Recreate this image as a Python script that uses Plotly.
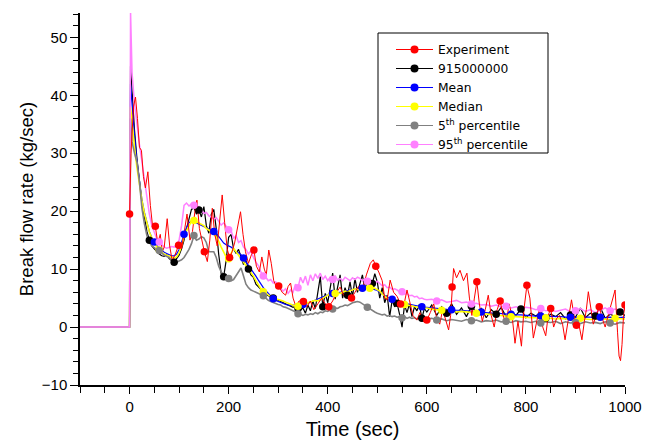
import plotly.graph_objects as go

# ---------------- data ----------------
time_sim = [-100, 0, 2] + list(range(5, 601, 5)) + list(range(610, 1001, 10))

p95 = [0, 0, 54.5,
       44, 38.5, 34.5, 31.5, 28.5, 25.5, 22.5, 19.5, 17.5, 16.5,
       15.2, 14.7, 14.2, 13.8, 13.6, 13.7, 13.9, 13.8, 14.2, 15.0,
       17.5, 21.0, 21.4, 20.9, 21.2, 21.0, 20.6, 20.8, 20.2, 19.6,
       19.8, 19.2, 19.0, 18.6, 18.9, 18.2, 17.6, 18.0, 17.4, 16.8,
       16.6, 15.3, 15.8, 14.6, 14.9, 13.8, 13.4, 12.6, 13.2, 12.0,
       11.2, 10.6, 9.5, 8.8, 8.6, 8.0, 8.2, 7.6, 7.8, 7.2,
       6.8, 6.2, 6.6, 5.8, 6.4, 6.0, 7.4, 6.8, 8.6, 7.6,
       8.8, 7.2, 9.0, 8.0, 9.2, 8.4, 9.3, 8.2, 8.8, 8.0,
       8.6, 8.2, 8.9, 8.1, 8.4, 8.0, 8.6, 8.3, 8.0, 8.5,
       8.2, 8.6, 8.4, 8.0, 8.3, 7.9, 8.2, 7.8, 7.6, 7.9,
       7.5, 7.1, 7.3, 6.8, 6.9, 6.5, 6.6, 6.4, 6.0, 6.1,
       5.7, 5.8, 5.4, 5.5, 5.2, 5.3, 4.9, 5.0, 4.8, 4.7,
       4.8, 4.5, 4.7, 4.3, 4.4, 4.6, 4.2, 4.3, 4.0, 4.1,
       3.8, 3.9, 3.6, 3.8, 3.5, 3.6, 3.3, 3.5, 3.2, 3.4,
       3.3, 3.0, 3.2, 2.8, 3.0, 2.7, 2.9, 3.1, 2.6, 2.8,
       3.2, 2.7, 3.0, 2.5, 2.9, 3.3, 2.8, 3.1, 2.9, 3.0]

run_915 = [0, 0, 45,
           40, 34, 29, 25, 21.5, 19, 16.5, 15, 14, 13.5,
           13, 12.6, 12.3, 12.2, 12.5, 11.8, 11.5, 11.2, 11.8, 12.4,
           13.5, 15, 17, 18.8, 20.3, 20.6, 19.5, 20.2, 19.0, 20.8,
           17.5, 16.2, 19.5, 20.3, 17.0, 12.5, 9.2, 8.7, 11.5, 15.5,
           16.0, 13.5, 12.7, 13.4, 12.0, 10.8, 11.5, 10.0, 9.0, 8.6,
           7.4, 7.0, 6.5, 6.0, 5.6, 5.4, 5.2, 5.0, 4.8, 4.6,
           4.4, 4.2, 3.9, 3.7, 3.5, 3.4, 3.6, 3.2, 2.9, 3.3,
           2.4, 3.8, 2.8, 4.5, 3.2, 6.0, 8.7, 3.5, 5.8, 4.2,
           6.5, 9.3, 4.8, 7.2, 9.0, 5.0, 6.8, 5.5, 7.8, 5.2,
           8.4, 6.0, 7.6, 9.0, 6.4, 8.2, 7.0, 7.5, 9.2, 7.8,
           5.0, 6.8, 4.2, 5.5, 1.8, 4.6, 3.5, 4.1, 2.2, 0.0,
           3.8, 2.5, 4.0, 1.8, 3.5, 2.8, 3.9, 1.5, 3.2, 2.6,
           3.8, 2.0, 3.5, 2.4, 4.0, 2.2, 3.3, 1.8, 3.6, 2.5,
           3.2, 1.6, 3.0, 2.2, 3.4, 1.8, 2.7, 2.0, 3.1, 1.6,
           2.4, 1.9, 2.6, 1.5, 2.2, 1.8, 2.5, 1.4, 2.1, 1.7,
           3.3, 1.6, 2.4, 1.9, 3.4, 1.5, 2.2, 1.8, 2.6, 2.0]

mean = [0, 0, 42,
        38, 33, 28.5, 25, 22, 19.8, 18, 16.5, 15.4, 14.7,
        14.1, 13.6, 13.2, 12.9, 12.7, 12.5, 12.3, 12.3, 12.6, 13.4,
        14.6, 16.0, 17.2, 18.0, 18.3, 18.2, 18.0, 17.8, 17.6, 17.4,
        17.2, 17.0, 16.8, 16.5, 16.2, 15.6, 15.0, 14.5, 14.2, 14.0,
        13.8, 13.4, 13.0, 12.8, 12.5, 11.9, 11.3, 10.8, 10.2, 9.6,
        8.8, 8.1, 7.4, 6.8, 6.3, 5.8, 5.3, 4.9, 4.6, 4.4,
        4.2, 4.1, 3.9, 3.8, 3.8, 3.7, 3.8, 3.8, 3.9, 3.9,
        4.0, 4.1, 4.3, 4.4, 4.6, 4.8, 5.0, 5.2, 5.4, 5.5,
        5.6, 5.8, 5.9, 6.0, 6.1, 6.2, 6.3, 6.4, 6.5, 6.6,
        6.6, 6.7, 6.7, 6.7, 6.8, 6.7, 6.7, 6.6, 6.5, 6.3,
        6.0, 5.7, 5.4, 5.2, 5.0, 4.8, 4.6, 4.5, 4.3, 4.2,
        4.1, 4.0, 3.9, 3.8, 3.7, 3.6, 3.6, 3.5, 3.4, 3.4,
        3.3, 3.2, 3.2, 3.1, 3.0, 2.9, 2.9, 2.8, 2.7, 2.6,
        2.6, 2.5, 2.4, 2.4, 2.3, 2.3, 2.2, 2.1, 2.1, 2.0,
        2.0, 1.9, 1.9, 1.9, 1.8, 1.8, 1.8, 1.7, 1.7, 1.7,
        1.8, 1.7, 1.7, 1.6, 1.7, 1.6, 1.7, 1.6, 1.7, 1.7]

median = [0, 0, 38,
          35, 31, 27.5, 24.5, 21.8, 19.6, 17.8, 16.4, 15.3, 14.5,
          13.8, 13.3, 12.9, 12.6, 12.4, 12.2, 12.0, 11.9, 12.1, 12.8,
          14.0, 15.6, 16.6, 17.6, 18.3, 18.4, 18.2, 17.9, 17.7, 17.5,
          17.0, 16.8, 16.5, 16.2, 15.6, 14.8, 13.8, 12.9, 12.1, 11.8,
          12.6, 13.6, 13.0, 12.4, 11.8, 11.4, 10.8, 10.2, 9.4, 8.8,
          8.0, 7.2, 6.6, 6.1, 5.8, 5.5, 5.2, 5.0, 4.9, 4.8,
          4.6, 4.5, 4.3, 4.1, 3.9, 3.8, 3.6, 3.6, 3.7, 3.9,
          4.0, 4.2, 4.4, 4.5, 4.6, 4.5, 4.7, 5.0, 5.3, 5.5,
          5.7, 5.6, 5.8, 5.9, 5.8, 6.0, 6.2, 6.1, 6.3, 6.4,
          6.6, 6.5, 6.4, 6.6, 6.8, 6.9, 6.7, 6.8, 6.7, 6.5,
          6.2, 5.7, 5.3, 5.0, 4.9, 4.7, 4.5, 4.4, 4.2, 4.0,
          3.9, 3.8, 3.7, 3.6, 3.5, 3.5, 3.4, 3.3, 3.3, 3.3,
          3.1, 3.0, 2.9, 2.8, 2.7, 2.6, 2.7, 2.6, 2.5, 2.4,
          2.3, 2.2, 2.1, 2.1, 2.0, 1.9, 1.8, 1.8, 1.7, 1.6,
          1.6, 1.6, 1.5, 1.6, 1.5, 1.4, 1.5, 1.4, 1.3, 1.4,
          1.5, 1.4, 1.3, 1.4, 1.3, 1.4, 1.3, 1.5, 1.4, 1.4]

p05 = [0, 0, 36,
       32, 30, 28.5, 25, 20.5, 17.8, 15.8, 14.6, 14.0, 13.7,
       13.4, 13.2, 12.8, 12.4, 12.2, 12.0, 11.6, 11.2, 11.2, 11.4,
       11.6, 12.0, 12.6, 13.4, 14.4, 15.8, 15.0, 15.2, 15.6, 15.4,
       14.6, 13.0, 13.0, 13.0, 12.0, 10.5, 9.5, 9.0, 8.6, 8.4,
       8.0, 8.2, 8.8, 9.6, 10.2, 8.8, 7.4, 6.8, 6.4, 6.2,
       6.0, 5.8, 5.6, 5.4, 5.0, 4.6, 4.4, 4.2, 4.0, 3.9,
       3.8, 3.5, 3.4, 3.2, 3.0, 2.7, 2.5, 2.3, 2.1, 2.0,
       2.2, 2.1, 2.3, 2.2, 2.5, 2.3, 2.6, 2.5, 2.8, 2.7,
       3.0, 3.1, 3.3, 3.2, 3.5, 3.6, 3.8, 3.7, 4.0, 4.2,
       4.3, 4.4, 4.3, 4.0, 3.7, 3.4, 3.2, 2.9, 2.6, 2.4,
       2.3, 2.1, 2.2, 1.9, 2.0, 1.8, 1.9, 1.7, 1.8, 1.6,
       1.8, 1.5, 1.7, 1.5, 1.6, 1.4, 1.6, 1.3, 1.5, 1.4,
       1.5, 1.2, 1.4, 1.1, 1.3, 1.2, 1.0, 1.3, 1.1, 1.2,
       0.9, 1.1, 1.0, 1.2, 0.9, 1.0, 0.8, 1.1, 0.9, 1.0,
       0.8, 1.0, 0.7, 0.9, 0.8, 1.0, 0.6, 0.9, 0.7, 0.8,
       0.6, 0.9, 0.7, 0.8, 0.6, 0.9, 0.7, 0.5, 0.8, 0.7]

exp_t = [0, 3, 8, 12, 16, 20, 24, 28, 32, 37, 42, 47, 52, 57, 62, 66, 70, 76, 81, 86,
         92, 99, 105, 110, 116, 122, 127, 132, 136, 141, 146, 151, 157, 162, 167, 172, 177, 182, 187, 192,
         197, 202, 207, 212, 218, 224, 229, 234, 240, 246, 251, 256, 262, 267, 272, 276, 281, 286, 291, 296,
         301, 308, 315, 320, 325, 330, 336, 342, 351, 358, 365, 372, 380, 388, 395, 402, 410, 418, 425, 432,
         440, 448, 455, 462, 470, 478, 486, 492, 497, 503, 510, 515, 520, 526, 533, 540, 547, 553, 560, 566,
         572, 580, 586, 592, 600, 607, 614, 620, 626, 632, 638, 644, 648, 651, 654, 660, 667, 674, 681, 686,
         691, 696, 701, 706, 712, 718, 724, 730, 736, 742, 748, 754, 760, 766, 772, 778, 784, 791, 796, 802,
         808, 815, 822, 828, 834, 840, 845, 850, 856, 862, 868, 874, 879, 885, 892, 897, 902, 908, 913, 918,
         922, 926, 931, 936, 942, 948, 954, 960, 966, 972, 980, 985, 988, 991, 994, 997, 1000]
exp_y = [19.5, 30, 38, 39.7, 36, 31, 30.5, 26, 24, 26.8, 21, 17, 17.4, 14.5, 16, 13, 13.8, 18.7, 14, 11.5,
         12.5, 14.1, 13.5, 16, 19.5, 15, 16.5, 20, 21.9, 17, 15, 13, 11.3, 15, 20.5, 16, 14, 18, 22.8, 18,
         13.5, 12, 13, 14.5, 17, 19.9, 16, 13, 11, 12.5, 13.3, 10.5, 9.5, 12.1, 10, 9, 13.3, 11, 8, 7,
         7.1, 6, 5.5, 7, 7.6, 5, 3.5, 4.5, 4.4, 3.5, 4.5, 3, 4, 5, 4, 3.5, 4.5, 6, 6.9, 5.5,
         6, 5, 6, 7, 6.5, 9, 11, 11.6, 10.5, 9.5, 8, 5, 4.7, 8.1, 6, 5.3, 4, 3.5, 6.4, 4,
         2, 1.2, 2.5, 1, 1.2, 2.5, 4, 1.5, 0.5, 3, 1, -0.5, 2, 6.9, 10.1, 8.5, 9.8, 8, 9.3, 5,
         2, 5, 7.8, 4, 1, 3, 5.5, 2, 0, 3, 4.5, 2, 0.5, 4, 2, -2.8, 1, -3.3, 3, 7.2,
         5, -1.9, 1, 3.5, 0, -1.5, 2, 3.2, 0, 1.5, 2, 0.5, -2.2, 1, 4.7, 2, 0.3, 0, -2.2, 1,
         3, 6.1, 3, 0.5, 2, 3.5, 1.5, 0, 2, 4, 6.4, -1, -5, -5.8, -3, 2, 3.8]

legend_names = ["Experiment", "915000000", "Mean", "Median",
                "5<sup>th</sup> percentile", "95<sup>th</sup> percentile"]
x_ticks = [0, 200, 400, 600, 800, 1000]
y_ticks = [-10, 0, 10, 20, 30, 40, 50]

# ---------------- helpers ----------------
def nearest(ts, targets):
    idx = []
    for tg in targets:
        k = min(range(len(ts)), key=lambda j: abs(ts[j] - tg))
        if k not in idx:
            idx.append(k)
    return idx

# drawing order (bottom -> top): (x, y, color, width, marker offset, marker step)
series = [
    (time_sim, run_915, "#000000", 1.2, 39, 50),
    (time_sim, mean, "#0000ff", 1.2, 49, 60),
    (time_sim, median, "#ffff00", 1.6, 58, 71),
    (time_sim, p05, "#808080", 1.6, 61, 70),
    (time_sim, p95, "#ff80ff", 1.5, 60, 70),
    (exp_t, exp_y, "#ff0000", 1.0, 0, 50),
]

fig = go.Figure()
for xs, ys, col, w, off, step in series:
    fig.add_trace(go.Scatter(x=xs, y=ys, mode="lines", line=dict(color=col, width=w),
                             showlegend=False, hoverinfo="skip"))
for xs, ys, col, w, off, step in series:
    idx = nearest(xs, list(range(off, 1001, step)))
    fig.add_trace(go.Scatter(x=[xs[i] for i in idx], y=[ys[i] for i in idx], mode="markers",
                             marker=dict(color=col, size=7.5), showlegend=False, hoverinfo="skip"))

legend_colors = ["#ff0000", "#000000", "#0000ff", "#ffff00", "#808080", "#ff80ff"]
for i, (nm, col) in enumerate(zip(legend_names, legend_colors)):
    fig.add_trace(go.Scatter(x=[None], y=[None], mode="lines+markers", name=nm,
                             line=dict(color=col, width=1.2), marker=dict(color=col, size=8),
                             legendrank=i + 1))

L, R, T, B = 80, 32, 13, 55
W, H = 657, 440
pw, ph = W - L - R, H - T - B

def px_x(p):
    return (p - L) / pw

def px_y(p):
    return (H - B - p) / ph

font_family = "Liberation Sans, Arial, sans-serif"

fig.add_shape(type="rect", xref="paper", yref="paper",
              x0=px_x(378), x1=px_x(548), y0=px_y(153), y1=px_y(33),
              line=dict(color="black", width=1), fillcolor="white", layer="below")

fig.update_layout(
    width=W, height=H,
    margin=dict(l=L, r=R, t=T, b=B, autoexpand=False),
    paper_bgcolor="white", plot_bgcolor="white",
    font=dict(family=font_family, color="black", size=14),
    legend=dict(x=px_x(391), y=px_y(35), xanchor="left", yanchor="top",
                bgcolor="rgba(0,0,0,0)", borderwidth=0, itemwidth=37,
                font=dict(size=12.3, family="DejaVu Sans, sans-serif"), tracegroupgap=0),
    xaxis=dict(range=[-100, 1000], tickvals=x_ticks, showgrid=False, zeroline=False,
               showline=True, linecolor="black", linewidth=1.5, automargin=False,
               ticks="outside", ticklen=7, tickwidth=1.2, tickcolor="black",
               minor=dict(dtick=50, tick0=0, ticks="outside", ticklen=6, tickwidth=1.2, tickcolor="black"),
               tickfont=dict(size=15),
               title=dict(text="Time (sec)", font=dict(size=20), standoff=11)),
    yaxis=dict(range=[-10, 54.2], tickvals=y_ticks, showgrid=False, zeroline=False,
               showline=True, linecolor="black", linewidth=1.5, automargin=False,
               ticks="outside", ticklen=8, tickwidth=1.2, tickcolor="black",
               minor=dict(dtick=2, tick0=0, ticks="outside", ticklen=5, tickwidth=1.2, tickcolor="black"),
               tickfont=dict(size=15),
               title=dict(text="Break flow rate (kg/sec)", font=dict(size=18.5), standoff=3)),
)

fig.write_html("out.html")
